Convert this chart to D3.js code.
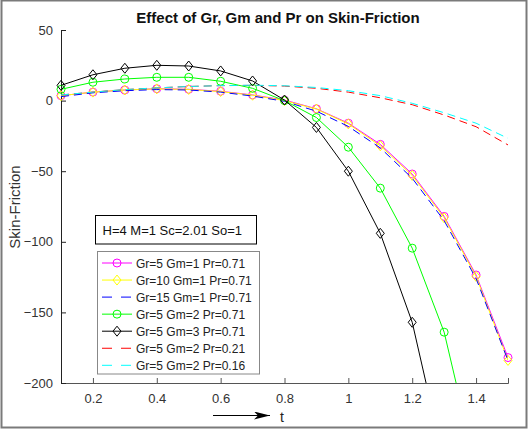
<!DOCTYPE html>
<html>
<head>
<meta charset="utf-8">
<script src="https://cdn.jsdelivr.net/npm/d3@7"></script>
<style>
  body { margin: 0; background: #fff; }
  svg { display: block; font-family: "Liberation Sans", Arial, sans-serif; }
</style>
</head>
<body>
<svg id="chart" width="532" height="430"></svg>
<script>
const tValues = [0.1, 0.2, 0.3, 0.4, 0.5, 0.6, 0.7, 0.8, 0.9, 1.0, 1.1, 1.2, 1.3, 1.4, 1.5];

const gr5gm1 = [3.5, 6, 7.5, 8.4, 8, 6.6, 4, 0.4, -5.8, -16, -31, -52, -82, -123.5, -182];
const gr10gm1 = [3.5, 6, 7.5, 8.3, 7.9, 6.4, 3.8, 0, -6, -16.5, -32, -53, -83, -124.5, -184];
const gr15gm1 = [2.8, 5.5, 7, 7.8, 7.5, 6, 3.2, -0.5, -7.5, -18.3, -33.5, -55, -85, -126, -184];
const gr5gm2 = [8, 13, 15.3, 16.5, 16.5, 13.7, 8.7, 0, -12, -33, -62, -104.5, -164, -260, -380];
const gr5gm3 = [10.8, 18.3, 22.9, 25, 24.5, 21, 13.9, 0.4, -19, -50, -94, -157, -256, -380, -520];
const gr5gm2pr021 = [4, 6, 7.8, 9, 10, 10.6, 10.8, 10.3, 8.7, 6, 2, -2.9, -10.2, -18.5, -31.4];
const gr5gm2pr016 = [4, 6, 7.8, 9, 10, 10.6, 10.9, 10.5, 9.3, 7, 3.5, -1.9, -8.6, -16, -26.7];

const seriesNames = [
  "Gr=5 Gm=1 Pr=0.71",
  "Gr=10 Gm=1 Pr=0.71",
  "Gr=15 Gm=1 Pr=0.71",
  "Gr=5 Gm=2 Pr=0.71",
  "Gr=5 Gm=3 Pr=0.71",
  "Gr=5 Gm=2 Pr=0.21",
  "Gr=5 Gm=2 Pr=0.16"
];
const seriesValues = [gr5gm1, gr10gm1, gr15gm1, gr5gm2, gr5gm3, gr5gm2pr021, gr5gm2pr016];
const seriesColors = ["#ff00ff", "#ffff00", "#0000ff", "#00ff00", "#000000", "#ff0000", "#00ffff"];
const seriesMarkers = ["circle", "diamond", null, "circle", "diamond", null, null];
const seriesDashed = [false, false, true, false, false, true, true];

const xTicks = [0.2, 0.4, 0.6, 0.8, 1, 1.2, 1.4];
const yTicks = [50, 0, -50, -100, -150, -200];

const svg = d3.select("#chart");

// figure frame
svg.append("rect")
  .attr("x", 1.5).attr("y", 0.5)
  .attr("width", 525).attr("height", 427)
  .attr("fill", "#fff")
  .attr("stroke", "#7a7a7a")
  .attr("stroke-width", 2);

const x = d3.scaleLinear().domain([0.1, 1.5]).range([61, 508]);
const y = d3.scaleLinear().domain([-200, 50]).range([383, 30]);

svg.append("defs").append("clipPath").attr("id", "plotclip")
  .append("rect")
  .attr("x", 61).attr("y", 30)
  .attr("width", 447).attr("height", 353);

// axes (MATLAB style: ticks inside, box off)
const xAxis = svg.append("g")
  .attr("transform", `translate(0,${y(-200)})`)
  .call(d3.axisTop(x).tickValues(xTicks).tickSize(5).tickFormat(d3.format("")));
xAxis.select(".domain").attr("stroke", "#555");
xAxis.selectAll(".tick line").attr("stroke", "#555");
xAxis.selectAll(".tick text")
  .attr("y", 20)
  .attr("fill", "#333")
  .attr("font-size", "13px");

const yAxis = svg.append("g")
  .attr("transform", `translate(${x(0.1)},0)`)
  .call(d3.axisRight(y).tickValues(yTicks).tickSize(5));
yAxis.select(".domain").attr("stroke", "#222");
yAxis.selectAll(".tick line").attr("stroke", "#222");
yAxis.selectAll(".tick text")
  .attr("x", -8)
  .attr("text-anchor", "end")
  .attr("fill", "#333")
  .attr("font-size", "13px");

// series
const plot = svg.append("g").attr("clip-path", "url(#plotclip)");
const marks = svg.append("g");
const line = d3.line().x((d, i) => x(tValues[i])).y(d => y(d));

function drawMarker(g, type, cx, cy, color) {
  if (type === "circle") {
    g.append("circle").attr("cx", cx).attr("cy", cy).attr("r", 4)
      .attr("fill", "none").attr("stroke", color).attr("stroke-width", 1);
  } else if (type === "diamond") {
    g.append("path")
      .attr("d", `M${cx},${cy - 5}L${cx + 4},${cy}L${cx},${cy + 5}L${cx - 4},${cy}Z`)
      .attr("fill", "none").attr("stroke", color).attr("stroke-width", 1);
  }
}

seriesValues.forEach((vals, k) => {
  const g = svg.append("g");
  g.append("path")
    .datum(vals)
    .attr("clip-path", "url(#plotclip)")
    .attr("d", line)
    .attr("fill", "none")
    .attr("stroke", seriesColors[k])
    .attr("stroke-width", 1)
    .attr("stroke-dasharray", seriesDashed[k] ? "8,5" : null);
  if (seriesMarkers[k]) {
    vals.forEach((v, i) => {
      if (v < -200 || v > 50) return;
      drawMarker(g, seriesMarkers[k], x(tValues[i]), y(v), seriesColors[k]);
    });
  }
});

// title
svg.append("text")
  .attr("x", 278).attr("y", 23)
  .attr("text-anchor", "middle")
  .attr("font-size", "15px")
  .attr("font-weight", "bold")
  .attr("fill", "#111")
  .text("Effect of Gr, Gm and Pr on Skin-Friction");

// y label
svg.append("text")
  .attr("transform", "translate(20,207) rotate(-90)")
  .attr("text-anchor", "middle")
  .attr("font-size", "15px")
  .attr("fill", "#333")
  .text("Skin-Friction");

// x label with arrow
svg.append("defs").append("marker")
  .attr("id", "arrowhead")
  .attr("viewBox", "0 0 16 8")
  .attr("refX", 16).attr("refY", 4)
  .attr("markerWidth", 16).attr("markerHeight", 8)
  .attr("markerUnits", "userSpaceOnUse")
  .attr("orient", "auto")
  .append("path").attr("d", "M0,0L16,4L0,8L4,4Z").attr("fill", "#000");
svg.append("line")
  .attr("x1", 213).attr("y1", 415.5).attr("x2", 270).attr("y2", 415.5)
  .attr("stroke", "#000").attr("stroke-width", 1.2)
  .attr("marker-end", "url(#arrowhead)");
svg.append("text")
  .attr("x", 280).attr("y", 422)
  .attr("font-size", "14px")
  .attr("fill", "#222")
  .text("t");

// parameter box
svg.append("rect")
  .attr("x", 95.5).attr("y", 215.5).attr("width", 161).attr("height", 28.5)
  .attr("fill", "#fff").attr("stroke", "#000").attr("stroke-width", 1);
svg.append("text")
  .attr("x", 102.5).attr("y", 234.5)
  .attr("font-size", "13px")
  .attr("fill", "#111")
  .text("H=4 M=1 Sc=2.01 So=1");

// legend
const legend = svg.append("g");
legend.append("rect")
  .attr("x", 97.5).attr("y", 251.5).attr("width", 162).attr("height", 122.5)
  .attr("fill", "#fff").attr("stroke", "#888").attr("stroke-width", 1);
seriesNames.forEach((name, k) => {
  const cy = 263 + k * 17.05;
  legend.append("line")
    .attr("x1", 102).attr("x2", 132).attr("y1", cy).attr("y2", cy)
    .attr("stroke", seriesColors[k]).attr("stroke-width", 1)
    .attr("stroke-dasharray", seriesDashed[k] ? "10,9" : null);
  if (seriesMarkers[k]) drawMarker(legend, seriesMarkers[k], 117, cy, seriesColors[k]);
  legend.append("text")
    .attr("x", 136).attr("y", cy + 4.5)
    .attr("font-size", "12px")
    .attr("fill", "#222")
    .text(name);
});
</script>
</body>
</html>
